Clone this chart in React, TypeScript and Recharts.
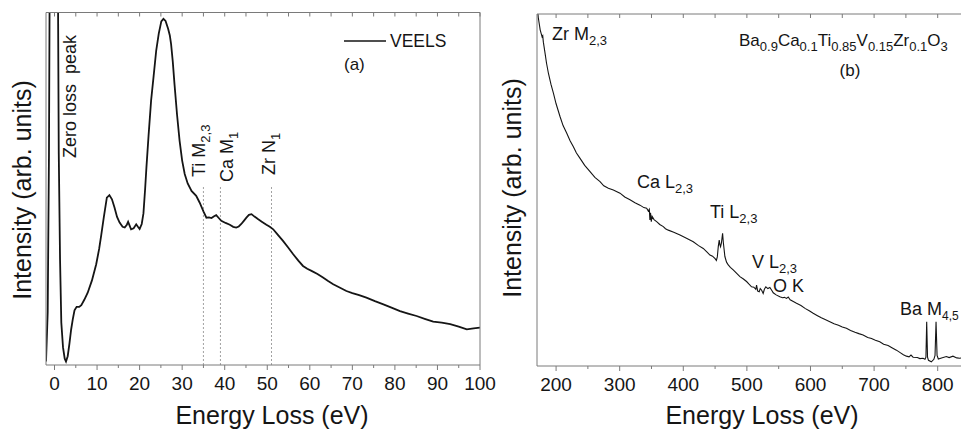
import React from 'react';
import { Line, LineChart, ReferenceLine, XAxis, YAxis } from 'recharts';

// (a) low-loss VEELS
const lowLossEnergy = [
  -2.0, -1.6, -1.3, -1.1, 0.0, 0.5, 0.8, 1.0, 1.3, 1.6, 2.0, 2.4, 2.7, 3.1, 3.5, 3.9, 4.3, 4.7,
  5.2, 5.8, 6.3, 7.0, 7.8, 8.8, 9.8, 10.5, 11.0, 11.6, 12.3, 12.9, 13.5, 14.1, 14.7, 15.3, 16.0,
  16.5, 17.0, 17.3, 17.7, 18.0, 18.6, 19.2, 19.6, 20.0, 20.5, 20.9, 21.3, 21.6, 22.1, 22.7, 23.3,
  23.9, 24.5, 25.1, 25.6, 26.1, 26.7, 27.1, 27.4, 27.8, 28.2, 28.8, 29.4, 30.0, 30.6, 31.3, 32.2,
  33.3, 34.1, 35.0, 35.7, 36.3, 36.9, 37.5, 38.0, 38.6, 39.2, 40.2, 41.2, 42.0, 42.7, 43.3, 43.9,
  44.5, 45.1, 45.7, 46.3, 47.0, 47.8, 48.8, 49.8, 50.6, 51.4, 52.5, 53.7, 55.0, 56.1, 57.3, 58.4,
  59.4, 60.4, 61.8, 63.1, 64.3, 65.5, 67.0, 68.6, 70.0, 71.6, 73.3, 75.3, 77.3, 79.2, 81.2, 83.1,
  85.1, 87.0, 89.0, 91.0, 93.0, 95.0, 96.9, 98.5, 100.0,
];
const lowLossIntensity = [
  1, 15, 60, 120, 300, 200, 110, 60, 30, 12, 5, 1.8, 1, 2.5, 6, 10, 13, 15.5,
  16.5, 16.5, 17, 18.5, 20.5, 24, 28.6, 33, 37, 42, 47.5, 48.2, 47, 44.7, 42, 40.4, 39.2,
  39, 39.8, 40.6, 39.4, 38.5, 38.8, 39.9, 39.2, 38.6, 40, 43, 50, 56, 65, 75, 82,
  89.2, 94, 97.5, 98.2, 97.6, 95.4, 93.5, 91, 86, 79.7, 71, 63.6, 58, 54.2, 51.5, 49.4,
  48, 46.1, 43.6, 41.8, 41.9, 41.7, 42.2, 42.5, 41.7, 40.9, 40.3, 39.8, 39.2, 39, 39.3, 40,
  40.9, 41.8, 42.6, 42.8, 42.1, 41.4, 40.6, 39.8, 39.2, 38.5, 36.9, 35.2, 33.2, 31.4, 29.6, 28.1,
  27.3, 26.7, 25.8, 24.8, 23.8, 22.9, 22, 21, 20.4, 19.8, 19.1, 18.1, 17.2, 16.3, 15.3, 14.6,
  13.9, 13.1, 12.3, 12.0, 11.6, 10.9, 10.1, 10.4, 10.6,
];

// (b) core-loss EELS
const coreLossEnergy = [
  170, 172, 175, 178, 179, 180, 182.7, 185, 188, 192, 195.8, 200, 206.3, 211, 216.8, 222, 227.2,
  232, 237.7, 245, 253.4, 261, 269.1, 275, 282.2, 290, 300.5, 308, 316.2, 324, 331.9, 338, 342.4,
  345, 346.6, 347.5, 348.5, 349.7, 351, 354, 358.1, 363, 368.6, 372, 376.4, 385, 394.8, 405,
  415.7, 424, 431.4, 437, 441.9, 446, 450, 452, 453.5, 455, 456.5, 457.5, 458.6, 460, 461.8, 463,
  465.4, 468, 470.7, 474, 478.5, 484, 489, 494, 499.5, 503, 507.3, 511, 514, 515.2, 517, 519.4,
  521, 523, 525.6, 527.5, 529.8, 533, 536.1, 539, 541.4, 546, 551.8, 556, 559, 562.3, 565, 568,
  573, 578, 585, 592, 598, 604.2, 611, 617, 623, 630.4, 637, 644, 650, 656.5, 663, 670, 676,
  682.7, 690, 696, 702, 708.9, 715, 722, 728, 735.1, 741, 746, 750.8, 755, 758, 761.3, 768, 772,
  777, 780, 781.5, 782.7, 784, 785.5, 790, 794, 795.8, 797.4, 799, 801, 806, 813.6, 818, 824,
  830, 834.6, 840, 850,
];
const coreLossIntensity = [
  103, 99, 95.5, 93.5, 93.8, 92, 88.8, 86, 83.1, 80, 77.5, 74.5, 70.8, 68.3, 66.1, 64, 62.3,
  60.5, 59, 57, 55.2, 53.6, 52.4, 51.2, 50.5, 50, 49.1, 48, 47.2, 46.4, 45.7, 45, 44.8,
  44, 44.5, 41.5, 43.5, 41, 42.5, 41.6, 41, 40.2, 39.6, 39, 38.6, 38, 37.2, 36.3,
  35.3, 34.2, 33.4, 32.4, 31.5, 31.2, 30.5, 30, 31, 33.9, 35.8, 34.5, 33.9, 35, 37.7, 35,
  31.1, 29.5, 28.7, 28, 27.3, 26.3, 25.4, 24.8, 24, 23.3, 22.5, 22.4, 21.8, 23, 21.3, 21.1,
  22, 21.6, 20.6, 21.8, 22.5, 22, 22.3, 21.5, 20.8, 20.2, 19.7, 19.4, 19.5, 19.2, 19.6, 18.8,
  18.3, 17.8, 17.2, 16.3, 15.7, 15, 14.3, 13.7, 13.2, 12.6, 12, 11.6, 11.1, 10.7, 10.1, 9.6, 9.2,
  8.8, 8.1, 7.8, 7.3, 6.9, 6.2, 5.8, 5.2, 4.5, 3.8, 3.2, 2.8, 2.6, 3.1, 2.5, 2.4, 2.1,
  2.2, 1.9, 2.5, 12.6, 2.5, 1.6, 1.2, 1.9, 3, 12.6, 3, 2, 2.3, 2.7, 2.4, 2.8,
  2.3, 2.2, 2.4, 2.3,
];

const lowMajorTicks = [0, 10, 20, 30, 40, 50, 60, 70, 80, 90, 100];
const lowMinorTicks = [5, 15, 25, 35, 45, 55, 65, 75, 85, 95];
const coreMajorTicks = [200, 300, 400, 500, 600, 700, 800];
const coreMinorTicks = [250, 350, 450, 550, 650, 750, 850];
const edgeOnsets = [35, 39, 51];

type Part = [string, boolean?];
const zeroLossLabel: Part[] = [['Zero loss\u00a0 peak']];
const tiMLabel: Part[] = [['Ti M'], ['2,3', true]];
const caMLabel: Part[] = [['Ca M'], ['1', true]];
const zrNLabel: Part[] = [['Zr N'], ['1', true]];
const zrMLabel: Part[] = [['Zr M'], ['2,3', true]];
const caLLabel: Part[] = [['Ca L'], ['2,3', true]];
const tiLLabel: Part[] = [['Ti L'], ['2,3', true]];
const vLLabel: Part[] = [['V L'], ['2,3', true]];
const oKLabel: Part[] = [['O K']];
const baMLabel: Part[] = [['Ba M'], ['4,5', true]];
const formula: Part[] = [
  ['Ba'], ['0.9', true], ['Ca'], ['0.1', true], ['Ti'], ['0.85', true],
  ['V'], ['0.15', true], ['Zr'], ['0.1', true], ['O'], ['3', true],
];

const lowData = lowLossEnergy.map((e, i) => ({ e, v: lowLossIntensity[i] }));
const coreData = coreLossEnergy.map((e, i) => ({ e, v: coreLossIntensity[i] }));

const FONT = '"Liberation Sans", Arial, sans-serif';
const AXIS = '#7a7a7a';
const INK = '#151515';

function Rich({ x, y, parts, size = 18, sub = 13, rotate = false, anchor = 'start' }: {
  x: number; y: number; parts: Part[]; size?: number; sub?: number; rotate?: boolean; anchor?: string;
}) {
  const shift = Math.round(size * 0.28);
  let down = false;
  return (
    <text
      x={x}
      y={y}
      fontSize={size}
      fontFamily={FONT}
      fill={INK}
      textAnchor={anchor as any}
      style={{ whiteSpace: 'pre' }}
      transform={rotate ? `rotate(-90 ${x} ${y})` : undefined}
    >
      {parts.map(([t, isSub], i) => {
        let dy = 0;
        if (isSub && !down) { dy = shift; down = true; }
        else if (!isSub && down) { dy = -shift; down = false; }
        return (
          <tspan key={i} dy={dy} fontSize={isSub ? sub : size}>{t}</tspan>
        );
      })}
    </text>
  );
}

// bottom ticks: outward, majors labelled
const bottomTick = (majors: number[]) => (props: any) => {
  const { x, y, payload } = props;
  const major = majors.includes(payload.value);
  return (
    <g>
      <line x1={x} x2={x} y1={y} y2={y + (major ? 5 : 3)} stroke={AXIS} strokeWidth={1} />
      {major && (
        <text x={x} y={y + 12} dy="0.71em" textAnchor="middle" fontSize={19} fontFamily={FONT} fill={INK}>
          {payload.value}
        </text>
      )}
    </g>
  );
};

// top ticks: inward, no labels
const topTick = (props: any) => {
  const { x, y } = props;
  return <line x1={x} x2={x} y1={y} y2={y + 4} stroke={AXIS} strokeWidth={1} />;
};

export default function App() {
  return (
    <div style={{ position: 'absolute', left: 0, top: 0, width: 961, height: 431, overflow: 'hidden', background: '#fff' }}>
      <div style={{ position: 'absolute', left: 0, top: 0 }}>
        <LineChart width={530} height={431} data={lowData} margin={{ top: 11.5, right: 49, bottom: 36, left: 45 }} style={{ overflow: 'visible' }}>
          <XAxis dataKey="e" type="number" domain={[-2, 100]} allowDataOverflow
            ticks={[...lowMajorTicks, ...lowMinorTicks]} interval={0} height={30}
            tickSize={0} tickMargin={0} tickLine={false} stroke={AXIS} tick={bottomTick(lowMajorTicks)} />
          <XAxis xAxisId="top" orientation="top" dataKey="e" type="number" domain={[-2, 100]} allowDataOverflow
            ticks={[...lowMajorTicks, ...lowMinorTicks]} interval={0} height={1}
            tickSize={0} tickMargin={0} tickLine={false} stroke={AXIS} tick={topTick} />
          <YAxis type="number" domain={[0, 100]} allowDataOverflow width={1} tick={false} tickLine={false} stroke={AXIS} />
          <YAxis yAxisId="right" orientation="right" type="number" domain={[0, 100]} width={1} tick={false} tickLine={false} stroke={AXIS} />
          {edgeOnsets.map((x) => (
            <ReferenceLine key={x} segment={[{ x, y: 0 }, { x, y: 51 }]} stroke="#8a8a8a" strokeWidth={0.8} strokeDasharray="2 2" />
          ))}
          <Line dataKey="v" type="linear" stroke={INK} strokeWidth={1.8} dot={false} isAnimationActive={false} />
        </LineChart>
      </div>
      <div style={{ position: 'absolute', left: 480, top: 0 }}>
        <LineChart width={500} height={431} data={coreData} margin={{ top: 13, right: 9.5, bottom: 35, left: 56 }} style={{ overflow: 'visible' }}>
          <XAxis dataKey="e" type="number" domain={[170, 850]} allowDataOverflow
            ticks={[...coreMajorTicks, ...coreMinorTicks]} interval={0} height={30}
            tickSize={0} tickMargin={0} tickLine={false} stroke={AXIS} tick={bottomTick(coreMajorTicks)} />
          <XAxis xAxisId="top" orientation="top" dataKey="e" type="number" domain={[170, 850]} allowDataOverflow
            ticks={[...coreMajorTicks, ...coreMinorTicks]} interval={0} height={1}
            tickSize={0} tickMargin={0} tickLine={false} stroke={AXIS} tick={topTick} />
          <YAxis type="number" domain={[0, 100]} allowDataOverflow width={1} tick={false} tickLine={false} stroke={AXIS} />
          <YAxis yAxisId="right" orientation="right" type="number" domain={[0, 100]} width={1} tick={false} tickLine={false} stroke={AXIS} />
          <Line dataKey="v" type="linear" stroke={INK} strokeWidth={1.1} dot={false} isAnimationActive={false} />
        </LineChart>
      </div>
      <svg width={961} height={431} style={{ position: 'absolute', left: 0, top: 0, pointerEvents: 'none' }}>
        {/* axis titles */}
        <text x={31} y={190} transform="rotate(-90 31 190)" textAnchor="middle" fontSize={25} fontFamily={FONT} fill={INK}>
          Intensity (arb. units)
        </text>
        <text x={272} y={424} textAnchor="middle" fontSize={25} fontFamily={FONT} fill={INK}>Energy Loss (eV)</text>
        <text x={521} y={188} transform="rotate(-90 521 188)" textAnchor="middle" fontSize={25} fontFamily={FONT} fill={INK}>
          Intensity (arb. units)
        </text>
        <text x={762} y={424} textAnchor="middle" fontSize={25} fontFamily={FONT} fill={INK}>Energy Loss (eV)</text>

        {/* panel (a) */}
        <line x1={344} y1={41} x2={386} y2={41} stroke={INK} strokeWidth={1.7} />
        <text x={390} y={47} fontSize={17.5} fontFamily={FONT} fill={INK}>VEELS</text>
        <text x={344} y={70} fontSize={17} fontFamily={FONT} fill={INK}>(a)</text>
        <Rich x={76} y={158} parts={zeroLossLabel} size={18} rotate />
        <Rich x={205} y={177} parts={tiMLabel} size={18} rotate />
        <Rich x={233} y={182} parts={caMLabel} size={18} rotate />
        <Rich x={275} y={175} parts={zrNLabel} size={18} rotate />

        {/* panel (b) */}
        <Rich x={552} y={40} parts={zrMLabel} size={18} />
        <Rich x={739} y={46} parts={formula} size={17} sub={13} />
        <text x={850} y={76} textAnchor="middle" fontSize={17} fontFamily={FONT} fill={INK}>(b)</text>
        <Rich x={637} y={188} parts={caLLabel} size={18} />
        <Rich x={710} y={218} parts={tiLLabel} size={18} />
        <Rich x={752} y={268} parts={vLLabel} size={18} />
        <Rich x={773} y={292} parts={oKLabel} size={18} />
        <Rich x={900} y={315} parts={baMLabel} size={18} sub={12} />
      </svg>
    </div>
  );
}
